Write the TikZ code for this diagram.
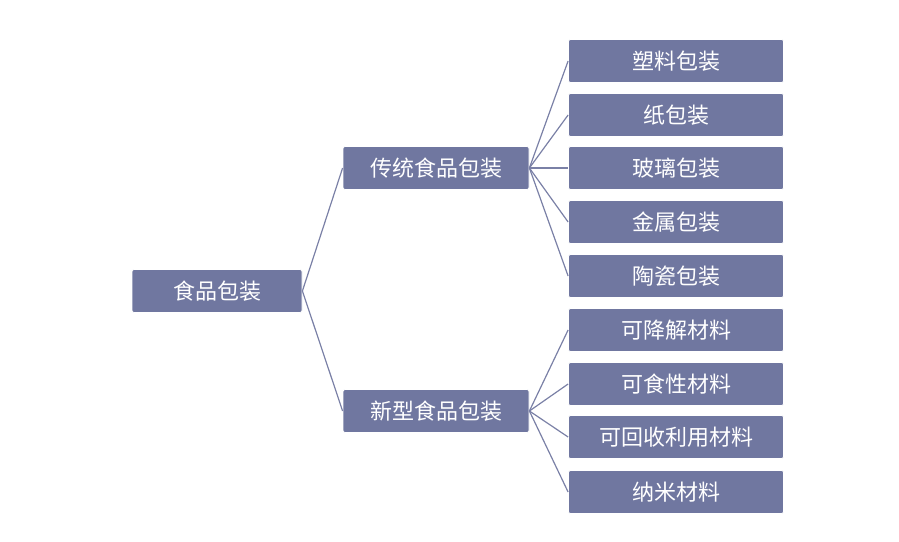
\documentclass[tikz,border=0pt]{standalone}
\usepackage{fontspec}
\newfontfamily\cjk{Noto Sans CJK SC}
\definecolor{boxc}{HTML}{7077A0}
\definecolor{linec}{HTML}{7A80A6}
\begin{document}
\begin{tikzpicture}[x=1pt,y=-1pt,
  box/.style={fill=boxc,draw=white,line width=0.8pt,rounded corners=2pt,text=white,font=\cjk\fontsize{22}{26}\selectfont,inner sep=0pt,minimum height=43pt},
  lbox/.style={box,minimum width=215pt},
  conn/.style={draw=linec,line width=1.2pt}]
\useasboundingbox (0,0) rectangle (899,541);
\node[box,minimum width=170pt] (root) at (217,291) {食品包装};
\node[box,minimum width=186pt] (t) at (436,168) {传统食品包装};
\node[box,minimum width=186pt] (n) at (436,411) {新型食品包装};
\node[lbox] (a1) at (676,61) {塑料包装};
\node[lbox] (a2) at (676,115) {纸包装};
\node[lbox] (a3) at (676,168) {玻璃包装};
\node[lbox] (a4) at (676,222) {金属包装};
\node[lbox] (a5) at (676,276) {陶瓷包装};
\node[lbox] (b1) at (676,330) {可降解材料};
\node[lbox] (b2) at (676,384) {可食性材料};
\node[lbox] (b3) at (676,437) {可回收利用材料};
\node[lbox] (b4) at (676,492) {纳米材料};
\draw[conn] (root.east) -- (t.west);
\draw[conn] (root.east) -- (n.west);
\foreach \c in {a1,a2,a3,a4,a5} \draw[conn] (t.east) -- (\c.west);
\foreach \c in {b1,b2,b3,b4} \draw[conn] (n.east) -- (\c.west);
\end{tikzpicture}
\end{document}
